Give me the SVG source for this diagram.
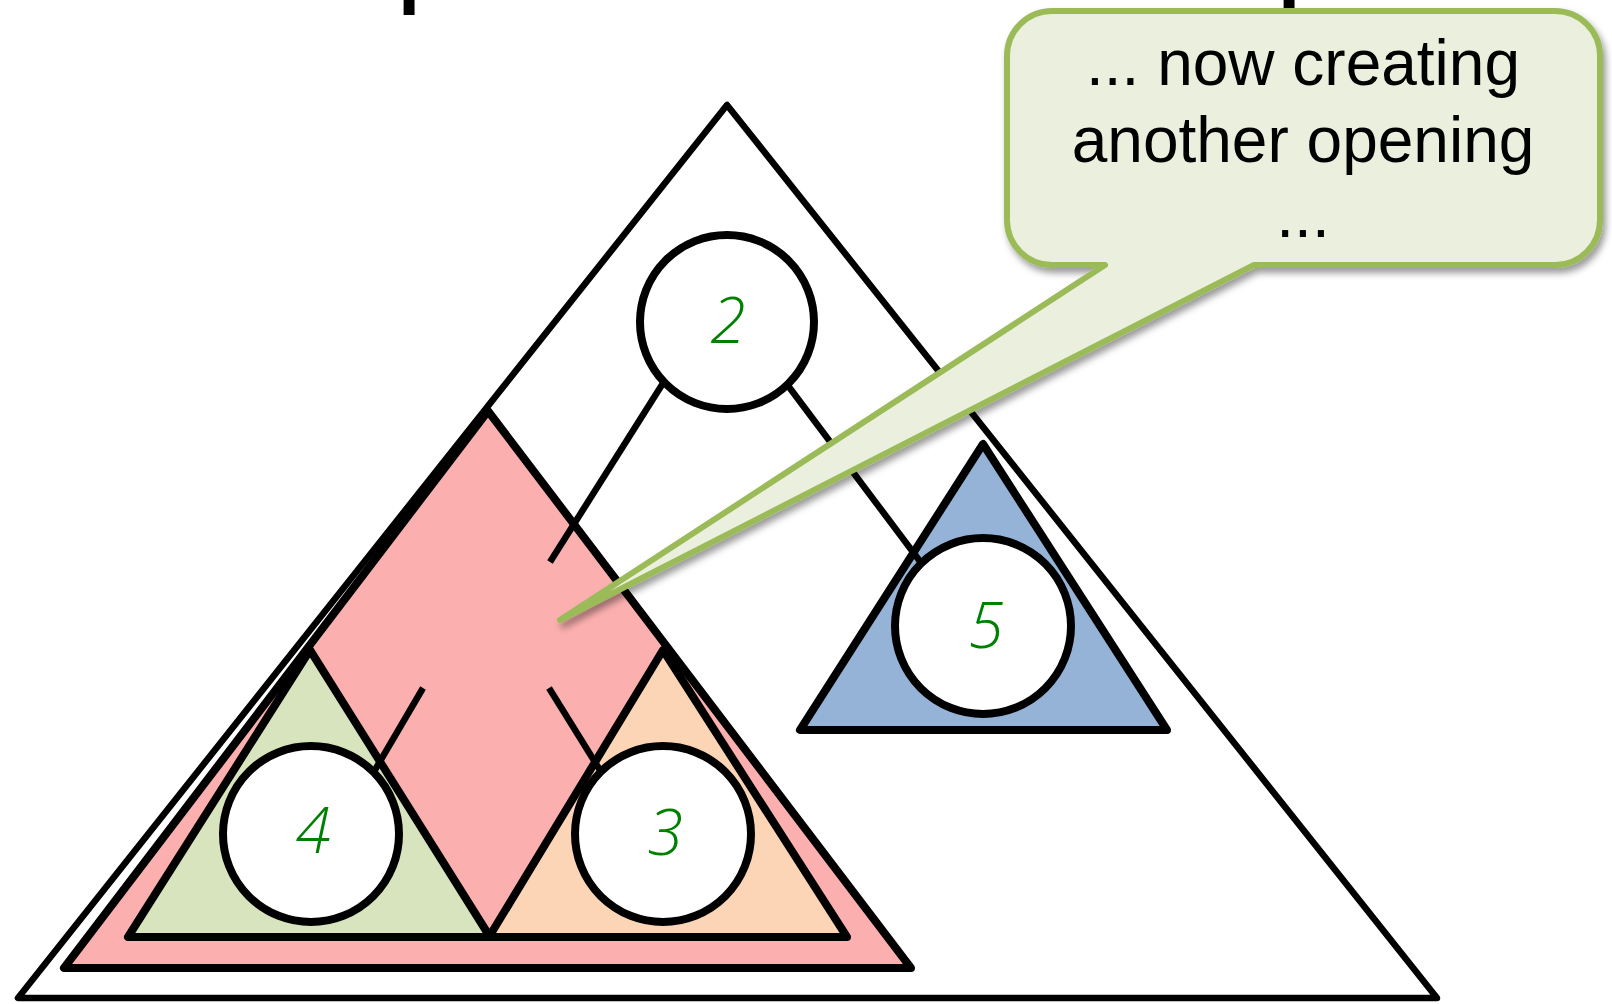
<svg xmlns="http://www.w3.org/2000/svg" width="1612" height="1004" viewBox="0 0 1612 1004">
  <style>
    .tri { stroke: #000; stroke-width: 8; stroke-linejoin: round; }
    .outer { fill: #fff; stroke: #000; stroke-width: 6.5; stroke-linejoin: round; }
    .node { fill: #fff; stroke: #000; stroke-width: 8; }
    .edge { stroke: #000; stroke-width: 6.5; fill: none; }
    .num { font-family: "Open Sans", "DejaVu Sans", sans-serif; font-style: italic; font-weight: 300; font-size: 64px; fill: #008000; text-anchor: middle; }
    .title { font-family: "Liberation Sans", Arial, sans-serif; font-weight: bold; font-size: 80px; fill: #000; }
    .callout-text { font-family: "Liberation Sans", Arial, sans-serif; font-size: 64px; fill: #000; text-anchor: middle; }
  </style>
  <defs>
    <filter id="shadow" x="-10%" y="-10%" width="130%" height="130%">
      <feDropShadow dx="3" dy="5" stdDeviation="3.5" flood-color="#000" flood-opacity="0.4"/>
    </filter>
  </defs>
  <rect width="1612" height="1004" fill="#fff"/>

  <!-- cropped title descenders -->
  <text class="title" x="398" y="-2.5">p</text>
  <text class="title" x="1278" y="-2.5">p</text>

  <g id="outer-tree">
    <polygon class="outer" points="727,105 18,998 1437,998"/>
  </g>
  <g id="subtree-red">
    <polygon class="tri" fill="#FBB0AF" points="488,411 64,968 911,968"/>
  </g>
  <g id="subtree-orange">
    <polygon class="tri" fill="#FBD5B5" points="663,650 489,937 847,937"/>
  </g>
  <g id="subtree-green">
    <polygon class="tri" fill="#D8E4BD" points="310,650 128,937 490,937"/>
  </g>
  <g id="subtree-blue">
    <polygon class="tri" fill="#95B3D7" points="983,444 800,730 1167,730"/>
  </g>

  <g id="connectors">
    <line class="edge" x1="665" y1="380" x2="550" y2="562"/>
    <line class="edge" x1="786" y1="383" x2="928" y2="572"/>
    <line class="edge" x1="423" y1="688" x2="372" y2="775"/>
    <line class="edge" x1="549" y1="688" x2="603" y2="775"/>
  </g>

  <g id="node-2">
    <circle class="node" cx="727" cy="322" r="87"/>
    <text class="num" x="728" y="343">2</text>
  </g>
  <g id="node-5">
    <circle class="node" cx="983" cy="626" r="88"/>
    <text class="num" x="986" y="648">5</text>
  </g>
  <g id="node-4">
    <circle class="node" cx="311" cy="834" r="88"/>
    <text class="num" x="313" y="853">4</text>
  </g>
  <g id="node-3">
    <circle class="node" cx="663" cy="834" r="88"/>
    <text class="num" x="665" y="855">3</text>
  </g>

  <g id="callout">
    <path filter="url(#shadow)" fill="#EBF0DE" stroke="#9BBB59" stroke-width="6" stroke-linejoin="round"
      d="M 1052,11 H 1555 A 45 45 0 0 1 1600,56 V 220 A 45 45 0 0 1 1555,265 H 1254 L 560,620 L 1105,265 H 1052 A 45 45 0 0 1 1007,220 V 56 A 45 45 0 0 1 1052,11 Z"/>
    <text class="callout-text" x="1303" y="85">... now creating</text>
    <text class="callout-text" x="1303" y="162">another opening</text>
    <text class="callout-text" x="1303" y="237">...</text>
  </g>
</svg>
